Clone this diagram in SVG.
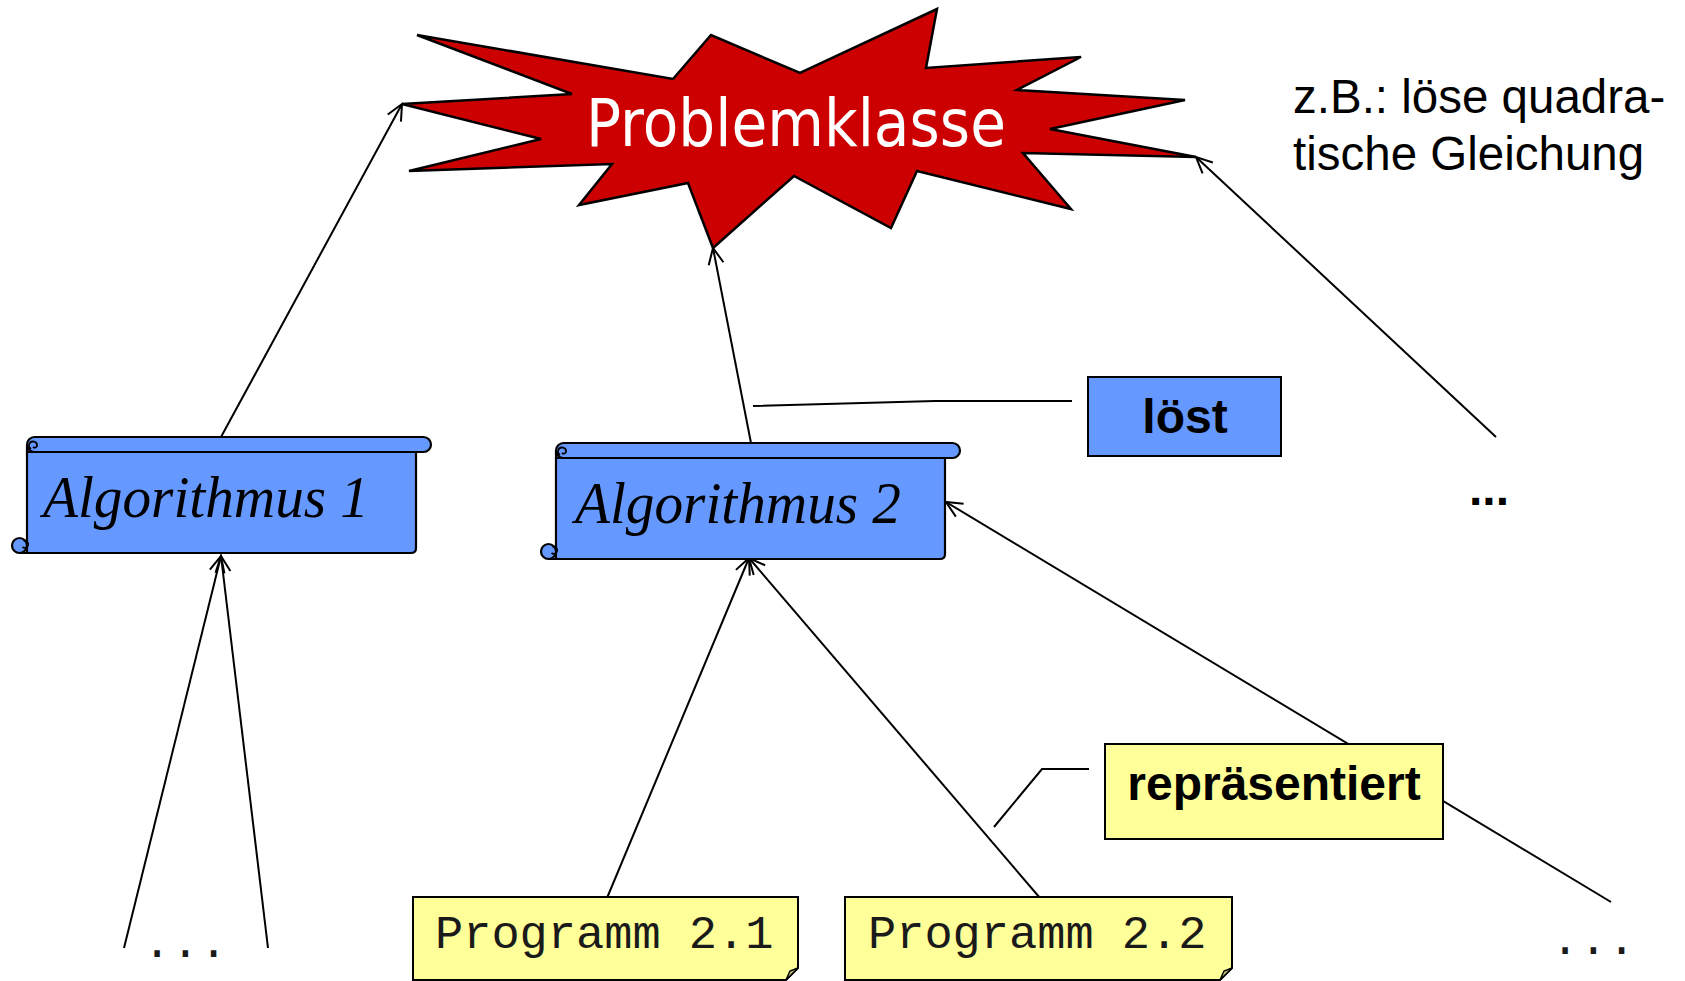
<svg xmlns="http://www.w3.org/2000/svg" xmlns:xlink="http://www.w3.org/1999/xlink" width="1685" height="981" viewBox="0 0 1685 981">
<style>
.conn{fill:none;stroke:#000;stroke-width:2}
.lead{fill:none;stroke:#000;stroke-width:2}
.scroll{fill:#6699ff;stroke:#000;stroke-width:2.2;stroke-linejoin:round}
.curl{fill:none;stroke:#000;stroke-width:1.8}
.algo{font-family:"Liberation Serif","DejaVu Serif",serif;font-style:italic;font-size:60px;fill:#000}
.lbl{font-family:"Liberation Sans",Arial,sans-serif;font-weight:bold;font-size:48px;fill:#000}
.note{fill:#ffff99;stroke:#000;stroke-width:2}
.prog{font-family:"Liberation Mono","Courier New",monospace;font-size:47px;fill:#1a1a1a}
.plain{font-family:"Liberation Sans",Arial,sans-serif;font-size:47.5px;fill:#000}
</style>
<defs>
<marker id="arr" markerUnits="userSpaceOnUse" markerWidth="24" markerHeight="24" viewBox="-20 -12 24 24" refX="0" refY="0" orient="auto">
<path d="M-16,-7.5 L0,0 L-16,7.5" fill="none" stroke="#000" stroke-width="2"/>
</marker>
<g id="scrollShape">
<path class="scroll" d="M0,8 V116 H384 Q389,116 389,111 V15"/>
<rect class="scroll" x="0" y="0" width="404" height="15" rx="7.5"/>
<path class="curl" d="M0,7.5 V15 H389"/>
<path class="curl" d="M4,12 a4,4 0 1 1 6,-3 a2.5,2.5 0 0 1 -4,1"/>
<circle class="scroll" cx="-7.5" cy="108.5" r="7.5"/>
<path class="curl" d="M-7.5,116 H0 M-3.5,104 a3.5,3.5 0 1 1 -1,6"/>
</g>
</defs>
<rect width="1685" height="981" fill="#fff"/>

<g id="connectors">
<line class="conn" x1="221" y1="437" x2="402" y2="104" marker-end="url(#arr)"/>
<line class="conn" x1="751" y1="443" x2="713" y2="248" marker-end="url(#arr)"/>
<line class="conn" x1="1496" y1="437" x2="1196" y2="157" marker-end="url(#arr)"/>
<line class="conn" x1="124" y1="948" x2="221" y2="556" marker-end="url(#arr)"/>
<line class="conn" x1="268" y1="948" x2="221" y2="556" marker-end="url(#arr)"/>
<line class="conn" x1="607" y1="898" x2="749" y2="558" marker-end="url(#arr)"/>
<line class="conn" x1="1040" y1="898" x2="749" y2="558" marker-end="url(#arr)"/>
<line class="conn" x1="1611" y1="902" x2="946" y2="502" marker-end="url(#arr)"/>
<polyline class="lead" points="1072,401 935,401 753,406"/>
<polyline class="lead" points="1089,769 1042,769 994,827"/>
</g>

<g id="problemklasse">
<polygon fill="#cc0000" stroke="#000" stroke-width="2.5" stroke-linejoin="miter" points="417,35 673,79 711,35 800,73 937,9 926,68 1081,57 1017,90 1185,100 1050,129 1196,157 1023,153 1071,209 917,171 891,228 794,176 713,248 688,183 579,205 612,164 409,171 541,139 402,104 572,94"/>
<text x="796" y="146" text-anchor="middle" font-family="'DejaVu Sans','Open Sans',sans-serif" font-size="66" fill="#fff" textLength="420" lengthAdjust="spacingAndGlyphs">Problemklasse</text>
</g>

<g id="example">
<text class="plain" x="1293" y="113">z.B.: löse quadra-</text>
<text class="plain" x="1293" y="170">tische Gleichung</text>
</g>

<g id="algorithmus1">
<use xlink:href="#scrollShape" transform="translate(27,437)"/>
<text class="algo" x="43" y="517" textLength="326" lengthAdjust="spacingAndGlyphs">Algorithmus 1</text>
</g>

<g id="algorithmus2">
<use xlink:href="#scrollShape" transform="translate(556,443)"/>
<text class="algo" x="575" y="523" textLength="326" lengthAdjust="spacingAndGlyphs">Algorithmus 2</text>
</g>

<g id="loest">
<rect x="1088" y="377" width="193" height="79" fill="#6699ff" stroke="#000" stroke-width="2"/>
<text class="lbl" x="1185" y="433" text-anchor="middle">löst</text>
</g>

<g id="dots-right">
<text class="lbl" x="1489" y="505" text-anchor="middle">...</text>
</g>

<g id="repraesentiert">
<rect class="note" x="1105" y="744" width="338" height="95"/>
<text class="lbl" x="1274" y="800" text-anchor="middle">repräsentiert</text>
</g>

<g id="programm21">
<path class="note" d="M413,897 H798 V968 L786,980 H413 Z"/>
<path d="M786,980 L790,971 L798,968 Z" fill="#cccc7a" stroke="#000" stroke-width="1.5"/>
<text class="prog" x="435" y="948">Programm 2.1</text>
</g>

<g id="programm22">
<path class="note" d="M845,897 H1232 V968 L1220,980 H845 Z"/>
<path d="M1220,980 L1224,971 L1232,968 Z" fill="#cccc7a" stroke="#000" stroke-width="1.5"/>
<text class="prog" x="868" y="948">Programm 2.2</text>
</g>

<g id="dots-bottom-left">
<text class="prog" x="143" y="957">...</text>
</g>
<g id="dots-bottom-right">
<text class="prog" x="1551" y="954">...</text>
</g>
</svg>
